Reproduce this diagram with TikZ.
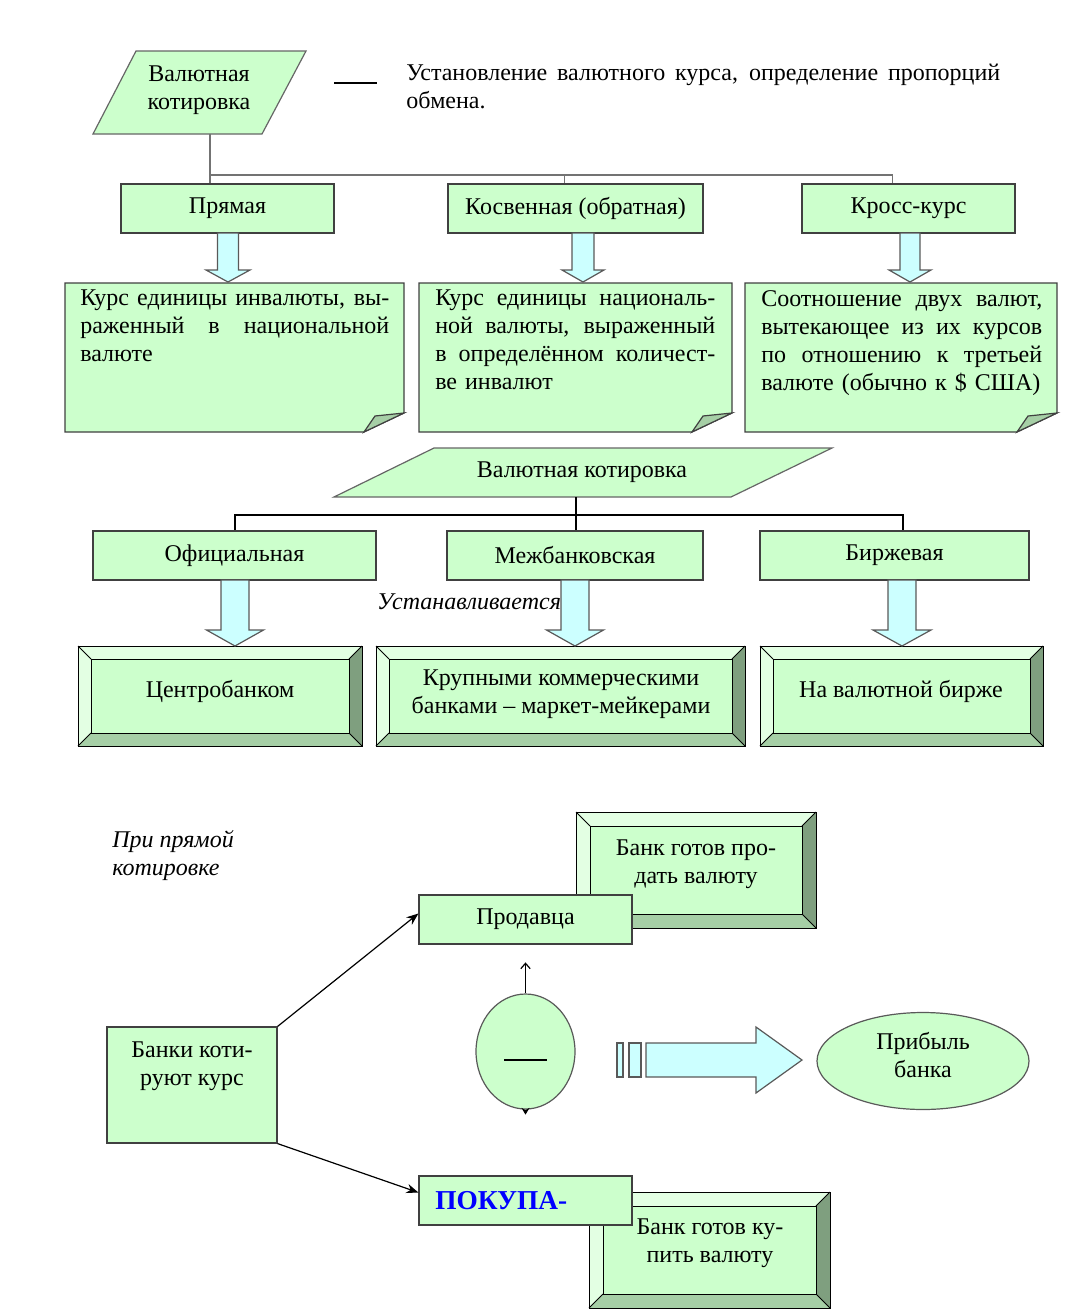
\documentclass[tikz,border=0pt]{standalone}
\usepackage{fontspec}
\setmainfont{Liberation Serif}
\usetikzlibrary{fit,arrows.meta,calc,shapes.geometric}
\definecolor{lg}{HTML}{CCFFCC}
\definecolor{lc}{HTML}{CCFFFF}
\definecolor{bvlight}{HTML}{E3FFE3}
\definecolor{bvdark}{HTML}{7F9F7F}
\definecolor{bvmid}{HTML}{A6CFA6}
\definecolor{foldc}{HTML}{A6CFA6}
\newcommand\jl[2]{\leavevmode\hbox to #1{\spaceskip=0.22em plus 1fil\relax #2}}
\newcommand\bevelbox[5]{%
 \fill[bvlight] (#1,#2) -- (#3,#2) -- (#3-#5,#2+#5) -- (#1+#5,#2+#5) -- cycle;
 \fill[bvlight] (#1,#2) -- (#1+#5,#2+#5) -- (#1+#5,#4-#5) -- (#1,#4) -- cycle;
 \fill[bvdark] (#3,#2) -- (#3,#4) -- (#3-#5,#4-#5) -- (#3-#5,#2+#5) -- cycle;
 \fill[bvmid] (#1,#4) -- (#3,#4) -- (#3-#5,#4-#5) -- (#1+#5,#4-#5) -- cycle;
 \draw[bvline] (#1,#2) rectangle (#3,#4);
 \draw[bvline, fill=lg] (#1+#5,#2+#5) rectangle (#3-#5,#4-#5);
 \draw[bvline] (#1,#2) -- (#1+#5,#2+#5) (#3,#2) -- (#3-#5,#2+#5)
   (#1,#4) -- (#1+#5,#4-#5) (#3,#4) -- (#3-#5,#4-#5);}
\newcommand\docbox[4]{%
 \draw[docst] (#1,#2) -- (#3,#2) -- (#3,#4-19) -- (#3-40,#4) -- (#1,#4) -- cycle;
 \draw[foldst] (#3-40,#4) -- (#3-29,#4-16) -- (#3,#4-19) -- cycle;}
% down block arrow: cx, ytop, yhead, ytip, shaft half, head half
\newcommand\darrow[6]{%
 \draw[barrow] (#1-#5,#2) -- (#1+#5,#2) -- (#1+#5,#3) -- (#1+#6,#3) -- (#1,#4)
   -- (#1-#6,#3) -- (#1-#5,#3) -- cycle;}
\begin{document}
\begin{tikzpicture}[x=0.75pt,y=-0.75pt,
  every node/.style={font=\fontsize{18}{21}\selectfont, inner sep=0pt},
  box/.style={draw=black!75, line width=0.9pt, fill=lg},
  pgram/.style={draw=black!60, line width=0.9pt, fill=lg},
  conn/.style={draw=black!55, line width=1.1pt},
  conn2/.style={draw=black, line width=0.8pt},
  barrow/.style={draw=black!65, line width=0.9pt, fill=lc},
  docst/.style={draw=black!75, line width=0.9pt, fill=lg},
  foldst/.style={draw=black!75, line width=0.9pt, fill=foldc},
  bvline/.style={draw=black, line width=0.7pt},
  arr/.style={draw=black, line width=0.9pt, -{Stealth[length=9pt,width=7pt]}},
  ]
\useasboundingbox (0,0) rectangle (1072,1314);

% ---------- top section ----------
\draw[pgram] (93,134) -- (136,51) -- (306,51) -- (262,134) -- cycle;
\node[align=center] (vk1) at (199,90) {Валютная\\котировка};
\coordinate (vk1b) at (210,134);

\draw[conn2, line width=0.8pt] (334,83) -- (377,83);
\node[anchor=north west, text width=445.5pt, align=left] (desc) at (406,64)
  {\jl{445.5pt}{Установление валютного курса, определение пропорций}\\обмена.};

\node[box, fit={(121,184)(334,233)}] (pr) {};
\node at (pr.center) {Прямая};
\node[box, fit={(448,184)(703,233)}] (kos) {};
\node at (kos.center) {Косвенная (обратная)};
\node[box, fit={(802,184)(1015,233)}] (kr) {};
\node at (kr.center) {Кросс-курс};

\coordinate (j1) at (210,175);
\draw[conn] (vk1b) -- (vk1b |- pr.north);
\draw[conn] (j1) -| ($(kos.north)+(-11,0)$);
\draw[conn] (j1) -| ($(kr.north)+(-16,0)$);

\docbox{65}{283}{404}{432}
\docbox{419}{283}{732}{432}
\docbox{745}{283}{1057}{432}
\node[anchor=north west, text width=231.75pt, align=left] (d1) at (80,290)
  {\jl{231.75pt}{Курс единицы инвалюты, вы-}\\\jl{231.75pt}{раженный в национальной}\\валюте};
\node[anchor=north west, text width=210pt, align=left] (d2) at (435,290)
  {\jl{210pt}{Курс единицы националь-}\\\jl{210pt}{ной валюты, выраженный}\\\jl{210pt}{в определённом количест-}\\ве инвалют};
\node[anchor=north west, text width=210.75pt, align=left] (d3) at (761,290)
  {\jl{210.75pt}{Соотношение двух валют,}\\\jl{210.75pt}{вытекающее из их курсов}\\\jl{210.75pt}{по отношению к третьей}\\валюте (обычно к \$ США)};

\darrow{228}{233}{270}{282}{10.5}{22}
\darrow{583}{233}{270}{282}{11}{21}
\darrow{910}{233}{270}{282}{10}{21}

% ---------- middle section ----------
\draw[pgram] (334,497) -- (434,448) -- (832,448) -- (731,497) -- cycle;
\node (vk2) at (582,472) {Валютная котировка};
\coordinate (vk2b) at (576,497);

\node[box, fit={(93,531)(376,580)}] (of) {};
\node at (of.center) {Официальная};
\node[box, fit={(447,531)(703,580)}] (mb) {};
\node at (mb.center) {Межбанковская};
\node[box, fit={(760,531)(1029,580)}] (bi) {};
\node at (bi.center) {Биржевая};

\coordinate (j2) at (576,515);
\draw[conn2] (vk2b) -- (vk2b |- mb.north);
\draw[conn2] (j2) -| ($(of.north)+(0.5,0)$);
\draw[conn2] (j2) -| ($(bi.north)+(8.5,0)$);

\bevelbox{78}{646}{362}{746}{13}
\bevelbox{376}{646}{745}{746}{13}
\bevelbox{760}{646}{1043}{746}{13}
\node (cb) at (220,691) {Центробанком};
\node[align=center] (kk) at (561,694) {Крупными коммерческими\\банками – маркет-мейкерами};
\node (vb) at (901,691) {На валютной бирже};

\darrow{235}{580}{630}{646}{14}{28.5}
\darrow{575}{580}{630}{646}{14}{28.5}
\darrow{902}{580}{630}{646}{14}{29}

\node[font=\fontsize{18}{21}\selectfont\itshape] (ust) at (469,602) {Устанавливается};

% ---------- bottom section ----------
\node[anchor=west, align=left, font=\fontsize{18}{21}\selectfont\itshape] (ppk) at (112,856) {При прямой\\котировке};

\node[box, fit={(107,1027)(277,1143)}] (bk) {};
\node[align=center, anchor=north] (bkt) at (192,1042) {Банки коти-\\руют курс};

\bevelbox{576}{812}{816}{928}{14}
\node[align=center] (sell) at (696,864) {Банк готов про-\\дать валюту};
\node[box, fit={(419,895)(632,944)}] (prod) {};
\node at (prod.center) {Продавца};

\bevelbox{589}{1192}{830}{1308}{14}
\node[align=center] (buy) at (710,1243) {Банк готов ку-\\пить валюту};
\node[box, fit={(419,1176)(632,1225)}] (pk) {};
\node[anchor=west, text=blue, font=\fontsize{20.5}{24}\selectfont\bfseries] (pkt) at (435,1201) {ПОКУПА-};

\draw[arr] (bk.north east) -- ([yshift=4.5pt]prod.west);
\draw[arr] (bk.south east) -- ([yshift=6pt]pk.west);

\node[ellipse, draw=black!65, line width=0.9pt, fill=lg, minimum width=74.25pt, minimum height=86.25pt] (el) at (525.5,1051.5) {};
\draw[black, line width=0.8pt] (504,1060) -- (547,1060);
\draw[black, line width=0.9pt, -{Straight Barb[length=4pt,width=7pt]}] (el.north) -- ++(0,-31);
\draw[black, line width=0.9pt, -{Stealth[length=5pt,width=6pt]}] (el.south) -- ++(0,5);

\draw[barrow] (617,1043) rectangle (623,1077);
\draw[barrow] (629,1043) rectangle (641,1077);
\coordinate (sa) at (646,1060);
\node[ellipse, draw=black!65, line width=0.9pt, fill=lg, minimum width=159pt, minimum height=72.75pt] (prib) at (923,1061) {};
\node[align=center] (pribt) at (923,1055) {Прибыль\\банка};
\draw[barrow] (sa |- 0,1043) -- (756,1043) -- (756,1027) -- (802,1060) -- (756,1093) -- (756,1077) -- (sa |- 0,1077) -- cycle;
\end{tikzpicture}
\end{document}
